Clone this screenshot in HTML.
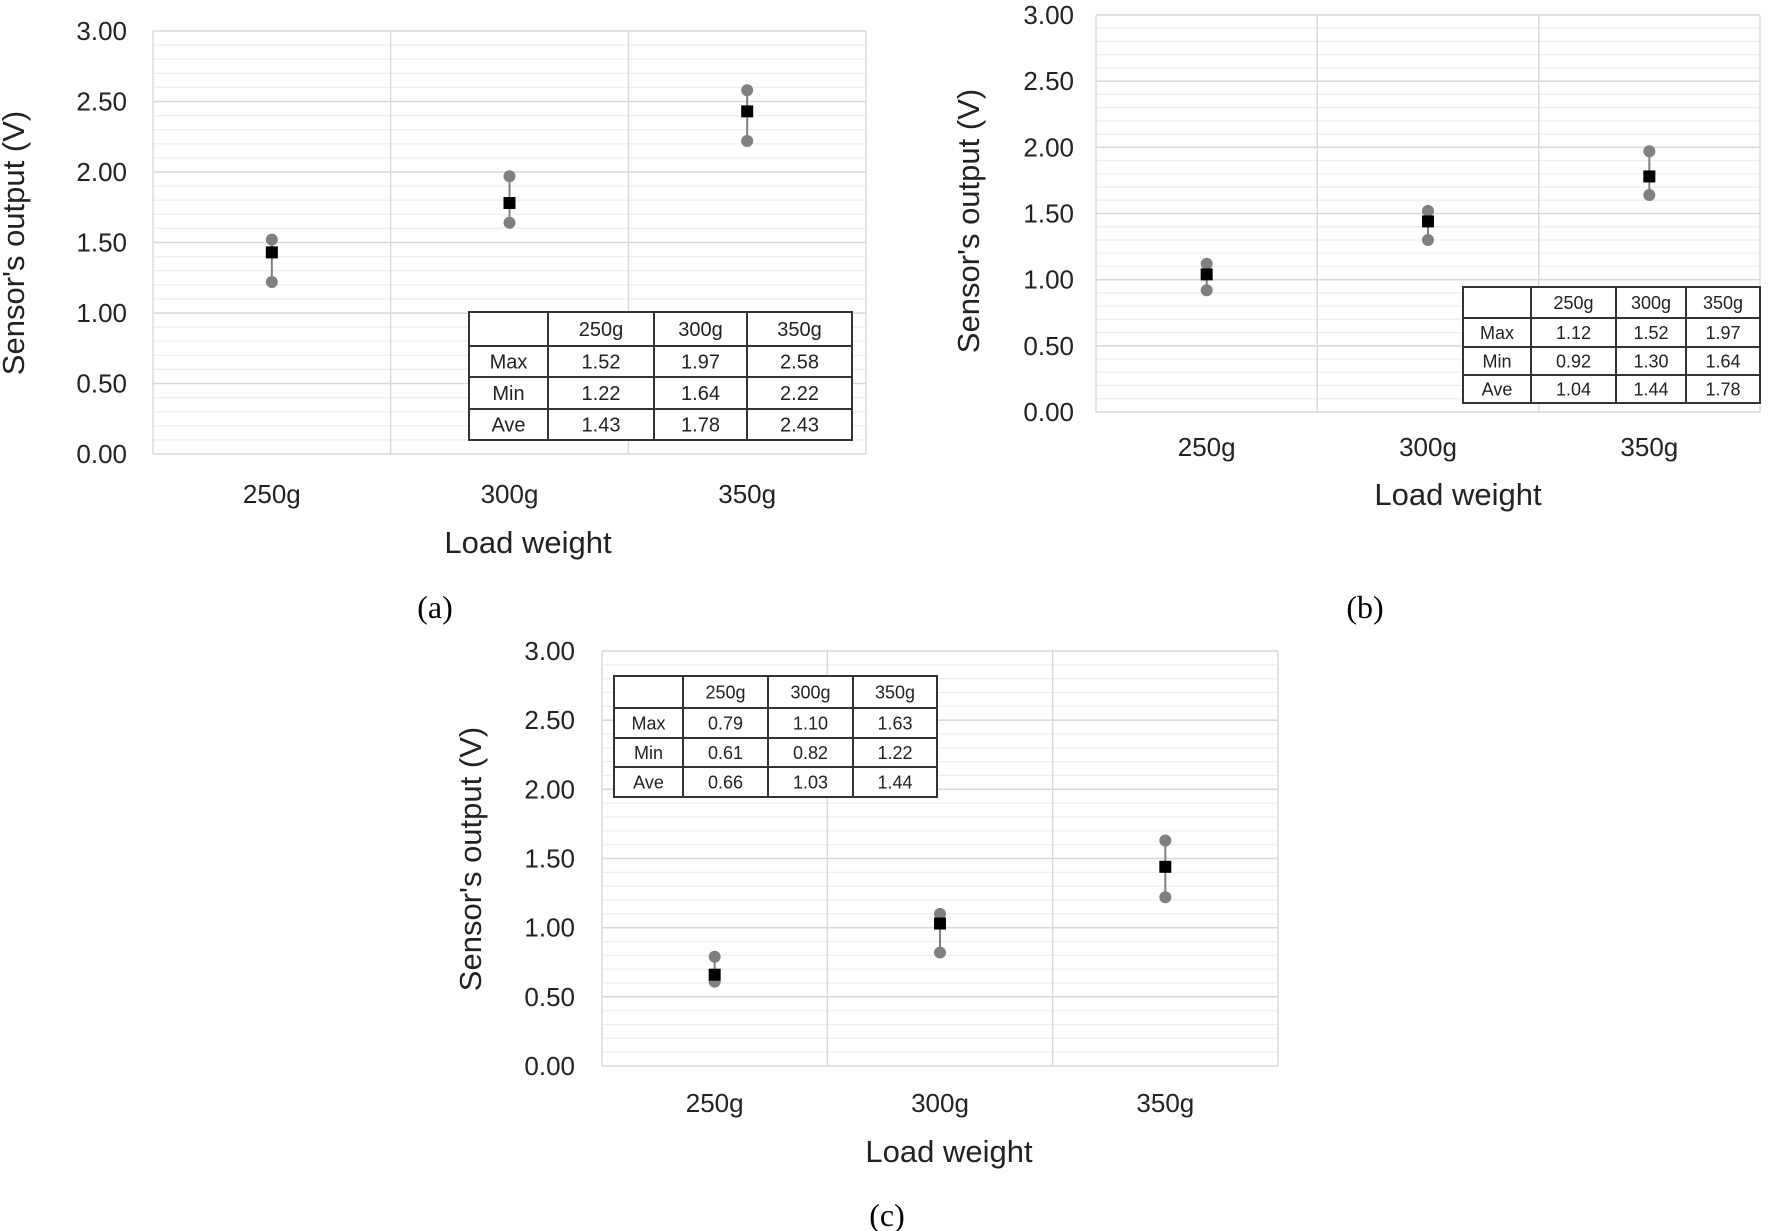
<!DOCTYPE html>
<html><head><meta charset="utf-8">
<style>
html,body{margin:0;padding:0;background:#fff;}
svg{display:block;font-family:"Liberation Sans",sans-serif;}
</style></head>
<body>
<svg id="root" width="1772" height="1231" viewBox="0 0 1772 1231"></svg>
<script>
const categories = ["250g","300g","350g"];
const yTicks = ["0.00","0.50","1.00","1.50","2.00","2.50","3.00"];
const maxA = [1.52,1.97,2.58], minA = [1.22,1.64,2.22], aveA = [1.43,1.78,2.43];
const maxB = [1.12,1.52,1.97], minB = [0.92,1.30,1.64], aveB = [1.04,1.44,1.78];
const maxC = [0.79,1.10,1.63], minC = [0.61,0.82,1.22], aveC = [0.66,1.03,1.44];

const NS = "http://www.w3.org/2000/svg";
const root = document.getElementById('root');
function mk(tag, attrs, parent, text){
  const e = document.createElementNS(NS, tag);
  for (const k in attrs) e.setAttribute(k, attrs[k]);
  if (text !== undefined) e.textContent = text;
  parent.appendChild(e);
  return e;
}
function fmt(v){return v.toFixed(2);}

function chart(cfg, mx, mn, av){
  const g = mk('g', {}, root);
  
  
  const L=cfg.l,R=cfg.r,T=cfg.t,B=cfg.b;
  const y = v => B - (v/3)*(B-T);
  const bw = (R-L)/categories.length;
  const x = i => L + bw*(i+0.5);
  for (let k=1;k<30;k++){
    if (k%5===0) continue;
    const yy=y(k/10);
    const ln = mk('line',{x1:L,x2:R,y1:yy,y2:yy,stroke:'#eeeeee','stroke-width':1.2},g);
    
    
  }
  yTicks.forEach((t,i)=>{
    const v=parseFloat(t), yy=y(v);
    const ln = mk('line',{x1:L,x2:R,y1:yy,y2:yy,stroke:'#d9d9d9','stroke-width':1.6},g);
    
    
    const tx = mk('text',{x:cfg.tickR,y:yy+9,'text-anchor':'end','font-size':cfg.fs,fill:'#222'},g,t);
    
    
  });
  for (let i=0;i<=categories.length;i++){
    const xx=L+bw*i;
    const ln = mk('line',{x1:xx,x2:xx,y1:T,y2:B,stroke:'#d9d9d9','stroke-width':1.4},g);
    
    
  }
  categories.forEach((c,i)=>{
    const tx = mk('text',{x:x(i),y:cfg.xlabY,'text-anchor':'middle','font-size':cfg.fs,fill:'#222'},g,c);
    
    
  });
  const xt = mk('text',{x:cfg.xtX,y:cfg.xtY,'text-anchor':'middle','font-size':cfg.fs+5,fill:'#222'},g,'Load weight');
  
  
  const yt = mk('text',{x:0,y:0,'text-anchor':'middle','font-size':cfg.fs+5,fill:'#222',transform:`translate(${cfg.ytX},${cfg.ytY}) rotate(-90)`},g,"Sensor's output (V)");
  
  
  const pl = mk('text',{x:cfg.plX,y:cfg.plY,'text-anchor':'middle','font-size':32,fill:'#000','font-family':'Liberation Serif, serif'},g,'('+cfg.id+')');
  
  
  categories.forEach((c,i)=>{
    const xx=x(i);
    const rng = mk('line',{x1:xx,x2:xx,y1:y(mx[i]),y2:y(mn[i]),stroke:'#808080','stroke-width':2},g);
    
    
    const c1 = mk('circle',{cx:xx,cy:y(mx[i]),r:6,fill:'#808080'},g);
    
    
    const c2 = mk('circle',{cx:xx,cy:y(mn[i]),r:6,fill:'#808080'},g);
    
    
    const sq = mk('rect',{x:xx-6,y:y(av[i])-6,width:12,height:12,fill:'#000'},g);
    
    
  });
  const tg = mk('g',{},g);
  
  
  const cols=cfg.tc, rows=cfg.tr;
  mk('rect',{x:cols[0],y:rows[0],width:cols[4]-cols[0],height:rows[4]-rows[0],fill:'#fff',stroke:'#333','stroke-width':2},tg);
  for (let i=1;i<4;i++){
    mk('line',{x1:cols[i],x2:cols[i],y1:rows[0],y2:rows[4],stroke:'#333','stroke-width':2},tg);
    mk('line',{x1:cols[0],x2:cols[4],y1:rows[i],y2:rows[i],stroke:'#333','stroke-width':2},tg);
  }
  const tbl=[["",...categories],["Max",...mx.map(fmt)],["Min",...mn.map(fmt)],["Ave",...av.map(fmt)]];
  tbl.forEach((r,ri)=>r.forEach((cell,ci)=>{
    if(!cell) return;
    const tx = mk('text',{x:(cols[ci]+cols[ci+1])/2,y:(rows[ri]+rows[ri+1])/2+cfg.tfs*0.36,'text-anchor':'middle','font-size':cfg.tfs,fill:'#222'},tg,cell);
    
    
  }));
}

chart({id:'a',l:153,r:866,t:31,b:454,tickR:127,fs:26,xlabY:503,xtX:528,xtY:553,ytX:24,ytY:243,plX:435,plY:618,
  tc:[469,548,654,747,852],tr:[312,346,377,409,440],tfs:20}, maxA,minA,aveA);
chart({id:'b',l:1096,r:1760,t:15,b:412,tickR:1074,fs:26,xlabY:456,xtX:1458,xtY:505,ytX:979,ytY:221,plX:1365,plY:618,
  tc:[1463,1531,1616,1686,1760],tr:[287,318,347,375,403],tfs:18}, maxB,minB,aveB);
chart({id:'c',l:602,r:1278,t:651,b:1066,tickR:575,fs:26,xlabY:1112,xtX:949,xtY:1162,ytX:481,ytY:859,plX:887,plY:1226,
  tc:[614,683,768,853,937],tr:[676,708,738,767,797],tfs:18}, maxC,minC,aveC);
</script>
</body></html>
